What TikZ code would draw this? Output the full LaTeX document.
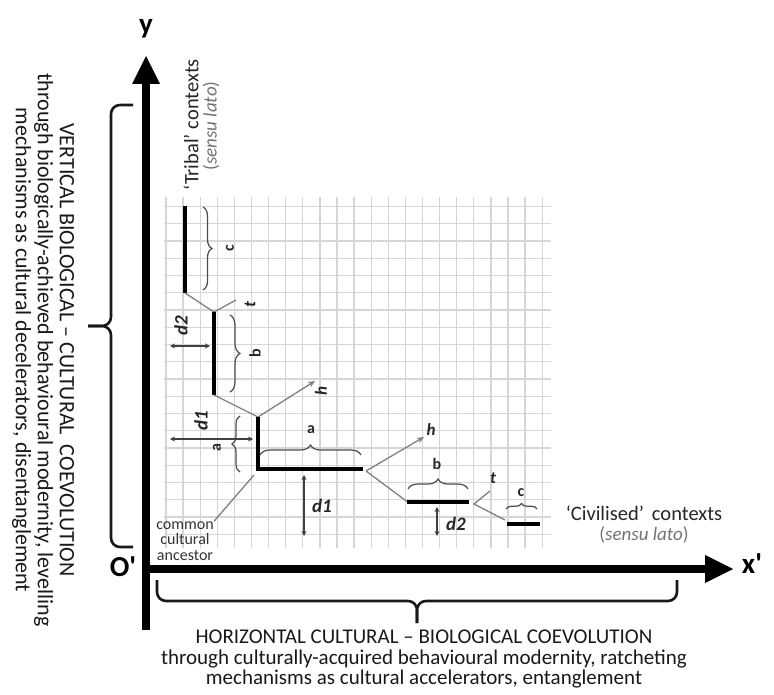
\documentclass[tikz,border=0pt]{standalone}
\usepackage{fontspec}
\setmainfont{Carlito}
\usetikzlibrary{arrows.meta,decorations.pathreplacing}

\begin{document}
\begin{tikzpicture}[x=1pt,y=-1pt,
  gridline/.style={draw=black!16, line width=1.3pt},
  lineage/.style={draw=black, line width=4pt},
  link/.style={draw=black!50, line width=1.3pt},
  harrow/.style={link, -{Stealth[length=7pt,width=6pt]}},
  spanbrace/.style={decorate, decoration={brace, amplitude=#1}, draw=black!70, line width=1.2pt},
  measure/.style={draw=black!75, line width=1.3pt, {Stealth[length=5pt,width=5pt]}-{Stealth[length=5pt,width=5pt]}},
  bigbrace/.style={draw=black!90, line width=2.6pt, rounded corners=9pt},
  axis/.style={draw=black, line width=7.5pt},
  axishead/.style={fill=black},
  axislabel/.style={font=\bfseries\fontsize{29}{29}\selectfont},
  lbl/.style={font=\bfseries\fontsize{16}{16}\selectfont, text=black!85, inner sep=0pt},
  dlbl/.style={font=\bfseries\itshape\fontsize{19}{19}\selectfont, text=black!85, inner sep=0pt},
  ilbl/.style={font=\bfseries\itshape\fontsize{17}{17}\selectfont, text=black!85, inner sep=0pt},
  context/.style={font=\fontsize{20.5}{20.5}\selectfont, text=black!85, inner sep=0pt},
  sensu/.style={font=\fontsize{19}{19}\selectfont, text=black!55, inner sep=0pt},
  caption/.style={font=\fontsize{21}{20.5}\selectfont, align=center, text=black!90, inner sep=0pt},
  vcaption/.style={font=\fontsize{22}{22}\selectfont, align=center, text=black!90, inner sep=0pt}
]
\useasboundingbox (0,0) rectangle (774,695);

% background grid
\foreach \i in {0,...,22}
  \draw[gridline] (166+17.1*\i,197) -- (166+17.1*\i,548);
\foreach \j in {0,...,19}
  \draw[gridline] (164,206.5+17.25*\j) -- (551,206.5+17.25*\j);

% axes
\coordinate (O) at (146,569);
\coordinate (ytop) at (146,84);
\coordinate (ybot) at (146,630);
\coordinate (xend) at (706,569);
\draw[axis] (ybot) -- (ytop);
\draw[axis] (O) ++(-4,0) -- (xend);
\fill[axishead] (ytop) ++(-14,0) -- ++(28,0) -- ++(-14,-28) -- cycle;
\fill[axishead] (xend) ++(-1,-14) -- ++(0,28) -- ++(28,-14) -- cycle;
\node[axislabel] (ylab) at (146,29) {y};
\node[axislabel] (xlab) at (752,564) {x\textquotesingle};
\node[axislabel] (olab) at (123,567) {O\textquotesingle};

% big braces
\draw[bigbrace] (133,105) -- (111,105) -- (111,326) -- (88,326);
\draw[bigbrace] (88,326) -- (111,326) -- (111,547) -- (133,547);
\draw[bigbrace] (157,580) -- (157,601) -- (417,601) -- (417,623);
\draw[bigbrace] (417,623) -- (417,601) -- (677,601) -- (677,580);

% captions
\node[vcaption, rotate=-90] (vcap) at (43,350)
  {VERTICAL BIOLOGICAL -- CULTURAL~~COEVOLUTION\\
   through biologically-achieved behavioural modernity, levelling\\
   mechanisms as cultural decelerators, disentanglement};
\node[caption] (hcap) at (424,659)
  {HORIZONTAL~CULTURAL -- BIOLOGICAL COEVOLUTION\\
   through culturally-acquired behavioural modernity, ratcheting\\
   mechanisms as cultural accelerators, entanglement};

% lineage points
\coordinate (c1) at (185,206);
\coordinate (c2) at (185,293);
\coordinate (b1) at (214,312);
\coordinate (b2) at (214,395);
\coordinate (a1) at (258,417);
\coordinate (a2) at (258,469);
\coordinate (a3) at (363,469);
\coordinate (tv) at (236,300);
\coordinate (hv) at (315,381);
\coordinate (fork) at (366,471);
\coordinate (hh) at (424,437);
\coordinate (bb1) at (407,501.5);
\coordinate (bb2) at (469,501.5);
\coordinate (tfork) at (474,504);
\coordinate (th) at (490,491);
\coordinate (cc0) at (505,520);
\coordinate (cc1) at (507,524);
\coordinate (cc2) at (540,524);

% tribal branch
\draw[lineage] (c1) -- (c2);
\draw[link] (c2) -- (b1) -- (tv);
\draw[lineage] (b1) -- (b2);
\draw[link] (b2) -- (a1);
\draw[harrow] (a1) -- (hv);
\draw[lineage, line join=miter] (a1) -- (a2) -- (a3);

% civilised branch
\draw[harrow] (fork) -- (hh);
\draw[link] (fork) -- (bb1);
\draw[lineage] (bb1) -- (bb2);
\draw[link] (th) -- (tfork) -- (cc0);
\draw[lineage] (cc1) -- (cc2);

% spans
\draw[spanbrace=9] (203,207) -- (203,290);
\draw[spanbrace=10] (230,315) -- (230,392);
\draw[spanbrace=8] (240,472) -- (240,416);
\draw[spanbrace=10] (260,455) -- (361,455);
\draw[spanbrace=10] (408,489) -- (468,489);
\draw[spanbrace=5.5] (506,509) -- (537,509);

% distances
\draw[measure] (170,346) -- (210,346);
\draw[measure] (170,439) -- (253,439);
\draw[measure] (304,475) -- (304,536);
\draw[measure] (437,507) -- (437,536);

% labels
\node[lbl, rotate=90] (lc) at (230,248) {c};
\node[lbl, rotate=90] (lb) at (255,353) {b};
\node[lbl, rotate=90] (la) at (217,448) {a};
\node[ilbl, rotate=90] (lt) at (250,305) {t};
\node[ilbl, rotate=90] (lh) at (321,391) {h};
\node[dlbl, rotate=90] (ld2) at (181,326) {d2};
\node[dlbl, rotate=90] (ld1) at (201,421) {d1};
\node[lbl] (ha) at (311,430) {a};
\node[lbl] (hb) at (437,464) {b};
\node[lbl] (hc) at (521,493) {c};
\node[ilbl] (ht) at (493,478) {t};
\node[ilbl] (hh2) at (431,430) {h};
\node[dlbl] (hd1) at (322,506) {d1};
\node[dlbl] (hd2) at (456,524) {d2};

% ancestor
\coordinate (anc) at (254,475);
\node[font=\fontsize{16}{15.5}\selectfont, align=center, text=black!80, inner sep=0pt] (ancestor) at (185,541)
  {common\\cultural\\ancestor};
\draw[link] (anc) -- (ancestor.north east);

% contexts
\node[context, rotate=90] (tribal) at (191,125) {`Tribal' contexts};
\node[sensu, rotate=90] (tribals) at (211,126) {(\textit{sensu lato})};
\node[context] (civil) at (644,513) {`Civilised'\hspace{8pt}contexts};
\node[sensu] (civils) at (644,535) {(\textit{sensu lato})};
\end{tikzpicture}
\end{document}
